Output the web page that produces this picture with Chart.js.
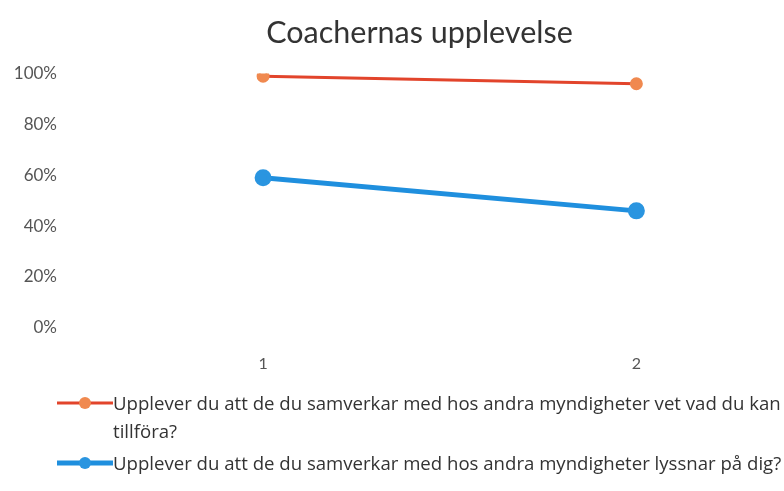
<!DOCTYPE html>
<html>
<head>
<meta charset="utf-8">
<script src="https://cdn.jsdelivr.net/npm/chart.js@4.4.0/dist/chart.umd.min.js"></script>
<style>
  html, body { margin: 0; padding: 0; background: #fff; }
  #wrap { position: relative; width: 784px; height: 491px; overflow: hidden; }
  #legend { position: absolute; left: 57px; top: 389px; width: 745px; font-family: "Open Sans", sans-serif; font-size: 18.6px; color: #333; }
  .item { display: flex; align-items: flex-start; margin-bottom: 4px; }
  .mark { flex: 0 0 56px; height: 28px; }
  .txt { line-height: 28px; }
</style>
</head>
<body>
<div id="wrap">
  <canvas id="chart" width="784" height="491"></canvas>
  <div id="legend"></div>
</div>
<script>
var title = 'Coachernas upplevelse'
var categories = ['1', '2']
var seriesNames = [
  'Upplever du att de du samverkar med hos andra myndigheter vet vad du kan tillföra?',
  'Upplever du att de du samverkar med hos andra myndigheter lyssnar på dig?'
]
var valuesA = [99, 96]
var valuesB = [59, 46]
var lineColors = ['#e2442b', '#1f8fde']
var pointColors = ['#f0894f', '#2a95e0']

function toPoints(vals) {
  return vals.map(function(v, i) { return { x: i + 1, y: v } })
}

var ctx = document.getElementById('chart').getContext('2d')
var chart = new Chart(ctx, {
  type: 'line',
  data: {
    datasets: [{
      label: seriesNames[0],
      data: toPoints(valuesA),
      borderColor: lineColors[0],
      backgroundColor: pointColors[0],
      pointBackgroundColor: pointColors[0],
      pointBorderColor: pointColors[0],
      borderWidth: 3,
      pointRadius: 5
    }, {
      label: seriesNames[1],
      data: toPoints(valuesB),
      borderColor: lineColors[1],
      backgroundColor: pointColors[1],
      pointBackgroundColor: pointColors[1],
      pointBorderColor: pointColors[1],
      borderWidth: 5,
      pointRadius: 6
    }]
  },
  options: {
    responsive: false,
    animation: false,
    layout: { padding: { left: 0, right: 0, top: 0, bottom: 100 } },
    plugins: {
      legend: { display: false },
      tooltip: { enabled: false },
      title: {
        display: true,
        fullSize: false,
        text: title,
        color: '#333',
        font: { family: 'Lato', size: 30.5, weight: 'normal' },
        padding: { top: 15, bottom: 22 }
      }
    },
    scales: {
      x: {
        type: 'linear',
        min: 0.472,
        max: 2.366,
        grid: { display: false },
        border: { display: false },
        afterBuildTicks: function(scale) {
          scale.ticks = categories.map(function(c, i) { return { value: i + 1 } })
        },
        ticks: {
          color: '#555',
          font: { family: 'Lato', size: 16 },
          padding: 18,
          callback: function(v) { return categories[v - 1] }
        }
      },
      y: {
        min: 0,
        max: 100,
        grid: { display: false },
        border: { display: false },
        afterFit: function(scale) { scale.width = 66 },
        ticks: {
          stepSize: 20,
          padding: 1,
          color: '#555',
          font: { family: 'Lato', size: 17 },
          callback: function(v) { return v + '%' }
        }
      }
    }
  }
})

// legend below the plot, wrapping like the original
var legend = document.getElementById('legend')
chart.data.datasets.forEach(function(ds, i) {
  var item = document.createElement('div')
  item.className = 'item'
  var c = document.createElement('canvas')
  c.width = 56; c.height = 28; c.className = 'mark'
  var m = c.getContext('2d')
  m.strokeStyle = lineColors[i]; m.lineWidth = i ? 5 : 3
  m.beginPath(); m.moveTo(0, 14); m.lineTo(56, 14); m.stroke()
  m.fillStyle = pointColors[i]
  m.beginPath(); m.arc(28, 14, 6, 0, Math.PI * 2); m.fill()
  var t = document.createElement('div')
  t.className = 'txt'
  t.textContent = ds.label
  item.appendChild(c); item.appendChild(t)
  legend.appendChild(item)
})
</script>
</body>
</html>
